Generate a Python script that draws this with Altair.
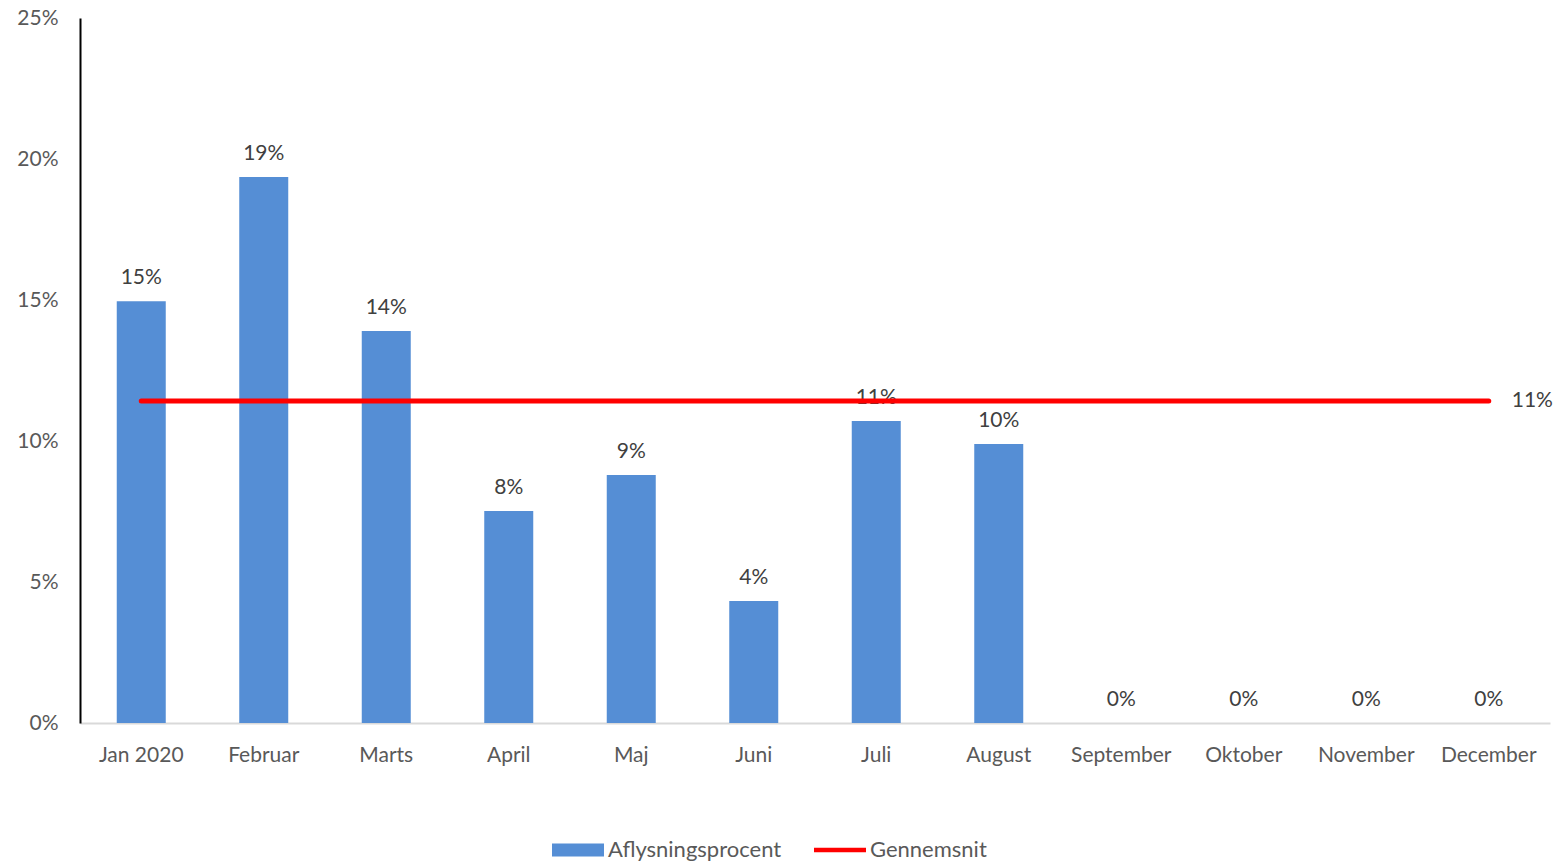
import altair as alt
import pandas as pd

months = ["Jan 2020", "Februar", "Marts", "April", "Maj", "Juni", "Juli",
          "August", "September", "Oktober", "November", "December"]
rates = [0.1496, 0.1936, 0.1390, 0.0752, 0.0879, 0.0433, 0.1071, 0.0989,
         0.0, 0.0, 0.0, 0.0]
average = 0.1142
series_names = ["Aflysningsprocent", "Gennemsnit"]
series_colors = ["#558ED5", "#FF0000"]

bars_df = pd.DataFrame({"month": months, "rate": rates, "series": series_names[0]})
avg_df = pd.DataFrame({"month": months, "rate": [average] * len(months), "series": series_names[1]})
avg_end_df = avg_df.tail(1)

FONT = "Lato"

x_enc = alt.X("month:N", sort=months, title=None,
              scale=alt.Scale(paddingInner=0.6, paddingOuter=0.3),
              axis=alt.Axis(labelAngle=0, labelFontSize=21, labelColor="#595959",
                            labelFont=FONT, ticks=False, labelPadding=21,
                            domainColor="#D9D9D9", domainWidth=2, grid=False))
y_enc = alt.Y("rate:Q", title=None,
              scale=alt.Scale(domain=[0, 0.25], nice=False),
              axis=alt.Axis(format=".0%", values=[0, 0.05, 0.10, 0.15, 0.20, 0.25],
                            labelFontSize=21, labelColor="#595959", labelFont=FONT,
                            ticks=False, labelPadding=22, domainColor="#000000",
                            domainWidth=2, grid=False))

color_enc = alt.Color("series:N", title=None,
                      scale=alt.Scale(domain=series_names, range=series_colors),
                      legend=alt.Legend(
                          orient="none", direction="horizontal",
                          legendX=472, legendY=806,
                          labelFontSize=22, labelColor="#595959", labelFont=FONT,
                          labelLimit=500,
                          symbolSize=2704, symbolStrokeWidth=0,
                          symbolType=alt.ExprRef(expr="datum.value == 'Gennemsnit' ? 'M-1,-0.09H1V0.09H-1Z' : 'M-1,-0.25H1V0.25H-1Z'"),
                          labelOffset=4, columnPadding=32))

bars = alt.Chart(bars_df).mark_bar().encode(x=x_enc, y=y_enc, color=color_enc)

bar_labels = alt.Chart(bars_df).mark_text(
    baseline="bottom", dy=-13, fontSize=21, font=FONT, color="#404040"
).encode(x=alt.X("month:N", sort=months), y="rate:Q", text=alt.Text("rate:Q", format=".0%"))

avg_line = alt.Chart(avg_df).mark_line(strokeWidth=5, strokeCap="round").encode(
    x=alt.X("month:N", sort=months), y="rate:Q", color=color_enc)

avg_label = alt.Chart(avg_end_df).mark_text(
    align="left", baseline="middle", dx=23, fontSize=21, font=FONT, color="#404040"
).encode(x=alt.X("month:N", sort=months), y="rate:Q", text=alt.Text("rate:Q", format=".0%"))

chart = alt.layer(bars, bar_labels, avg_line, avg_label).properties(
    width=1470, height=705,
    background="white",
    autosize=alt.AutoSizeParams(type="none"),
    padding={"left": 80, "top": 18, "right": 9, "bottom": 140},
).configure_view(stroke="transparent", strokeWidth=0)

chart.save("out.html", embed_options={"renderer": "svg", "actions": False})
